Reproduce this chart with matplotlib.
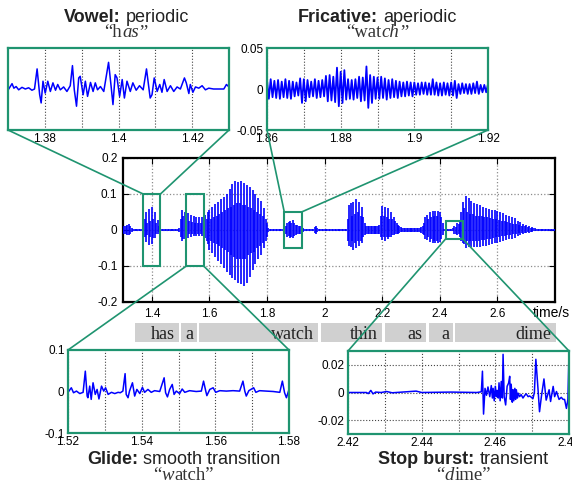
import numpy as np
import matplotlib
matplotlib.use("Agg")
import matplotlib.pyplot as plt
from matplotlib.patches import Rectangle, ConnectionPatch
from matplotlib import transforms

plt.rcParams['font.family'] = ['Liberation Sans', 'DejaVu Sans']

# ---------------- data ----------------
# main waveform envelope (upper / lower) sampled every 5 ms from 1.300 s
wave_t0 = 1.30
wave_dt = 0.005
wave_hi = [
    .008, .012, .010, .014, .018, .012, .006, .003, .003, .003, .003, .003, .003, .003, .008, .030, .050, .020, .057, .025,
    .065, .030, .049, .020, .027, .012, .006, .003, .003, .003, .003, .003, .003, .003, .003, .003, .003, .003, .003, .005,
    .030, .056, .040, .050, .030, .046, .025, .042, .022, .039, .020, .035, .020, .035, .020, .037, .022, .042, .030, .050,
    .055, .030, .065, .035, .072, .040, .078, .045, .085, .050, .092, .055, .100, .060, .115, .065, .128, .070, .137, .075,
    .133, .075, .135, .070, .130, .070, .125, .065, .120, .060, .110, .055, .100, .050, .090, .045, .080, .040, .060, .030,
    .020, .005, .003, .003, .003, .003, .003, .003, .003, .003, .003, .003, .003, .010, .020, .022, .025, .020, .028, .020,
    .015, .013, .012, .010, .008, .006, .004, .003, .003, .003, .003, .003, .003, .008, .012, .005, .003, .003, .003, .003,
    .003, .003, .003, .003, .003, .003, .003, .003, .003, .003, .003, .003, .003, .003, .003, .003, .030, .070, .074, .040,
    .079, .045, .085, .050, .078, .040, .065, .035, .020, .012, .010, .010, .012, .010, .010, .012, .010, .012, .015, .040,
    .067, .040, .065, .035, .060, .030, .050, .030, .035, .025, .020, .015, .010, .008, .006, .006, .005, .006, .005, .006,
    .005, .005, .005, .005, .006, .005, .006, .008, .010, .020, .035, .042, .030, .050, .035, .054, .040, .054, .040, .052,
    .050, .035, .020, .004, .003, .003, .003, .003, .003, .005, .010, .008, .020, .018, .025, .050, .079, .060, .094, .050,
    .088, .045, .080, .045, .075, .040, .072, .040, .070, .038, .065, .035, .060, .035, .058, .032, .056, .030, .055, .030,
    .052, .028, .050, .026, .046, .025, .042, .022, .040, .020, .035, .018, .032, .016, .026, .014, .023, .012, .018, .010,
    .014, .008, .010, .006, .007, .005, .005, .003, .003, .003, .003, .003, .003, .003, .003, .003, .003, .003, .003, .003,
    .003,
]
wave_lo = [
    -.008, -.012, -.010, -.014, -.015, -.010, -.005, -.003, -.003, -.003, -.003, -.003, -.003, -.003, -.008, -.020, -.034, -.015, -.042, -.020,
    -.038, -.022, -.022, -.010, -.011, -.006, -.004, -.003, -.003, -.003, -.003, -.003, -.003, -.003, -.003, -.003, -.003, -.003, -.003, -.005,
    -.020, -.030, -.025, -.025, -.015, -.023, -.012, -.020, -.012, -.018, -.010, -.016, -.010, -.016, -.010, -.018, -.012, -.022, -.030, -.040,
    -.055, -.030, -.065, -.035, -.075, -.040, -.085, -.045, -.095, -.050, -.105, -.055, -.116, -.060, -.125, -.070, -.134, -.075, -.140, -.080,
    -.148, -.080, -.150, -.080, -.155, -.080, -.148, -.070, -.130, -.065, -.110, -.060, -.095, -.050, -.080, -.045, -.070, -.035, -.050, -.030,
    -.020, -.005, -.003, -.003, -.003, -.003, -.003, -.003, -.003, -.003, -.003, -.003, -.003, -.010, -.020, -.018, -.022, -.020, -.022, -.018,
    -.015, -.012, -.012, -.010, -.008, -.006, -.004, -.003, -.003, -.003, -.003, -.003, -.003, -.008, -.010, -.005, -.003, -.003, -.003, -.003,
    -.003, -.003, -.003, -.003, -.003, -.003, -.003, -.003, -.003, -.003, -.003, -.003, -.003, -.003, -.003, -.003, -.030, -.045, -.046, -.030,
    -.056, -.035, -.050, -.030, -.045, -.030, -.035, -.020, -.015, -.010, -.010, -.012, -.010, -.010, -.010, -.010, -.010, -.012, -.012, -.020,
    -.028, -.020, -.030, -.020, -.025, -.020, -.020, -.015, -.015, -.012, -.010, -.010, -.008, -.006, -.006, -.006, -.005, -.006, -.005, -.006,
    -.005, -.005, -.005, -.005, -.006, -.005, -.006, -.008, -.010, -.015, -.025, -.028, -.020, -.032, -.025, -.037, -.030, -.037, -.030, -.035,
    -.033, -.025, -.015, -.004, -.003, -.003, -.003, -.003, -.003, -.004, -.010, -.012, -.015, -.012, -.020, -.030, -.037, -.040, -.049, -.030,
    -.048, -.030, -.046, -.030, -.046, -.030, -.046, -.030, -.046, -.028, -.045, -.028, -.044, -.025, -.042, -.025, -.040, -.022, -.037, -.020,
    -.035, -.020, -.032, -.018, -.030, -.016, -.028, -.015, -.026, -.014, -.024, -.012, -.022, -.010, -.016, -.009, -.014, -.008, -.010, -.007,
    -.009, -.006, -.007, -.005, -.005, -.004, -.004, -.003, -.003, -.003, -.003, -.003, -.003, -.003, -.003, -.003, -.003, -.003, -.003, -.003,
    -.003,
]

main_xticks = [1.4, 1.6, 1.8, 2.0, 2.2, 2.4, 2.6]
main_yticks = [-0.2, -0.1, 0.0, 0.1, 0.2]

# words under the waveform (start / end times, s)
words = ["has", "a", "watch", "thin", "as", "a", "dime"]
word_start = [1.342, 1.501, 1.564, 1.988, 2.210, 2.363, 2.453]
word_end = [1.494, 1.557, 1.977, 2.199, 2.352, 2.446, 2.803]

# zoom regions: (t0, t1, +/- amplitude of the highlight box)
zoom_t0 = [1.37, 1.86, 1.52, 2.42]
zoom_t1 = [1.43, 1.92, 1.58, 2.48]
zoom_amp = [0.10, 0.05, 0.10, 0.025]

# vowel "has" inset samples (t, v)
vowel_pts = [
    (1.3702, 0.000), (1.3711, 0.013), (1.3716, 0.002), (1.3722, 0.006), (1.3729, -0.002), (1.3738, 0.004),
    (1.3747, 0.000), (1.3756, 0.003), (1.3765, -0.003), (1.3772, 0.000), (1.3779, 0.049), (1.3786, -0.014),
    (1.3790, -0.034), (1.3795, 0.019), (1.3801, -0.010), (1.3808, 0.019), (1.3815, -0.006), (1.3822, 0.015),
    (1.3829, -0.003), (1.3835, 0.011), (1.3842, -0.002), (1.3851, 0.005), (1.3860, -0.006), (1.3869, 0.008),
    (1.3875, 0.057), (1.3880, -0.002), (1.3886, -0.042), (1.3892, 0.027), (1.3896, 0.031), (1.3904, -0.014),
    (1.3910, 0.019), (1.3916, -0.018), (1.3924, 0.016), (1.3931, -0.006), (1.3937, 0.015), (1.3943, -0.002),
    (1.3951, 0.006), (1.3960, -0.006), (1.3973, 0.065), (1.3980, 0.006), (1.3985, -0.038), (1.3991, 0.035),
    (1.3996, 0.027), (1.4003, -0.018), (1.4010, 0.023), (1.4016, -0.022), (1.4023, 0.019), (1.4032, -0.006),
    (1.4039, 0.015), (1.4048, -0.003), (1.4057, 0.008), (1.4067, -0.002), (1.4076, 0.049), (1.4082, 0.006),
    (1.4086, -0.022), (1.4091, -0.014), (1.4097, 0.027), (1.4105, -0.006), (1.4112, 0.011), (1.4118, -0.008),
    (1.4124, 0.023), (1.4132, -0.006), (1.4141, 0.008), (1.4150, -0.006), (1.4159, 0.005), (1.4168, 0.000),
    (1.4179, 0.027), (1.4184, 0.015), (1.4191, -0.011), (1.4195, 0.011), (1.4202, -0.008), (1.4209, 0.005),
    (1.4218, 0.002), (1.4227, 0.008), (1.4236, -0.002), (1.4245, 0.002), (1.4258, 0.000), (1.4272, 0.000),
    (1.4286, 0.000), (1.4293, 0.011), (1.4300, 0.005),
]

# fricative "watch" inset: noise envelope every 1 ms from 1.860 s
fric_t0 = 1.860
fric_dt = 0.001
fric_hi = [
    .011, .012, .010, .011, .009, .012, .010, .009, .008, .013,
    .012, .011, .009, .012, .010, .011, .016, .017, .015, .026,
    .021, .023, .012, .011, .012, .015, .014, .0275, .017, .015,
    .014, .015, .013, .011, .012, .010, .009, .008, .009, .008,
    .008, .007, .008, .008, .007, .012, .008, .007, .008, .007,
    .008, .010, .006, .007, .006, .006, .007, .009, .005, .005,
    .006,
]
fric_lo = [
    -.012, -.010, -.011, -.012, -.010, -.011, -.012, -.009, -.008, -.017,
    -.015, -.010, -.009, -.011, -.010, -.009, -.015, -.014, -.016, -.021,
    -.017, -.013, -.012, -.013, -.011, -.015, -.014, -.023, -.017, -.012,
    -.012, -.011, -.013, -.011, -.010, -.011, -.009, -.009, -.008, -.009,
    -.007, -.007, -.006, -.007, -.007, -.007, -.008, -.008, -.007, -.008,
    -.008, -.011, -.006, -.005, -.006, -.006, -.005, -.006, -.004, -.004,
    -.004,
]

# glide "watch" inset samples (t, v)
glide_pts = [
    (1.5200, -0.002), (1.5209, 0.009), (1.5215, -0.003), (1.5223, 0.001), (1.5232, -0.005), (1.5241, -0.002),
    (1.5247, 0.049), (1.5252, -0.011), (1.5254, -0.015), (1.5259, 0.013), (1.5263, -0.019), (1.5268, 0.021),
    (1.5274, -0.007), (1.5279, 0.005), (1.5284, -0.018), (1.5291, 0.013), (1.5297, 0.001), (1.5302, 0.009),
    (1.5309, -0.007), (1.5318, -0.002), (1.5327, -0.005), (1.5336, -0.002), (1.5342, -0.003), (1.5349, 0.001),
    (1.5355, 0.043), (1.5358, -0.007), (1.5363, -0.015), (1.5367, 0.001), (1.5375, 0.021), (1.5381, -0.011),
    (1.5387, 0.005), (1.5395, -0.005), (1.5402, 0.010), (1.5408, -0.002), (1.5417, 0.005), (1.5426, -0.002),
    (1.5435, 0.002), (1.5449, 0.000), (1.5461, 0.033), (1.5465, -0.003), (1.5470, -0.013), (1.5476, 0.005),
    (1.5483, 0.017), (1.5488, -0.007), (1.5494, 0.001), (1.5503, -0.005), (1.5510, 0.006), (1.5517, -0.002),
    (1.5530, 0.002), (1.5548, 0.000), (1.5562, 0.001), (1.5568, 0.025), (1.5574, 0.001), (1.5577, -0.010),
    (1.5585, 0.005), (1.5594, 0.009), (1.5601, -0.002), (1.5612, 0.002), (1.5630, 0.001), (1.5648, 0.002),
    (1.5666, 0.001), (1.5675, 0.025), (1.5680, 0.001), (1.5684, -0.011), (1.5691, 0.002), (1.5704, 0.009),
    (1.5710, -0.002), (1.5720, 0.002), (1.5738, 0.001), (1.5757, 0.000), (1.5775, -0.002), (1.5782, 0.025),
    (1.5788, -0.003), (1.5793, -0.015), (1.5800, 0.005),
]

# stop burst "dime" inset samples (t, v)
stop_pts = [
    (2.4200, 0.0), (2.4250, 0.0), (2.4255, -0.0008), (2.4262, 0.0015), (2.4268, -0.0010), (2.4275, 0.0003),
    (2.4290, 0.0), (2.4305, 0.0007), (2.4320, -0.0002), (2.4385, 0.0010), (2.4400, 0.0), (2.4480, 0.0003),
    (2.4550, 0.0), (2.4562, 0.0005), (2.4565, 0.0154), (2.4568, -0.0156), (2.4572, 0.0030), (2.4576, -0.0020),
    (2.4580, 0.0040), (2.4585, -0.0030), (2.4589, 0.0050), (2.4592, -0.0040), (2.4594, 0.0030), (2.4597, -0.0060),
    (2.4600, 0.0045), (2.4603, -0.0030), (2.4605, 0.0015), (2.4608, -0.0040), (2.4610, 0.0070), (2.4613, -0.0060),
    (2.4616, 0.0080), (2.4619, -0.0040), (2.4621, 0.0276), (2.4624, -0.0030), (2.4628, -0.0090), (2.4632, 0.0045),
    (2.4636, 0.0068), (2.4639, 0.0117), (2.4641, -0.0050), (2.4643, 0.0060), (2.4646, -0.0070), (2.4648, 0.0020),
    (2.4650, -0.0060), (2.4653, 0.0030), (2.4655, -0.0050), (2.4657, 0.0020), (2.4660, -0.0040), (2.4662, -0.0005),
    (2.4666, -0.0030), (2.4670, -0.0015), (2.4675, -0.0040), (2.4680, -0.0020), (2.4684, -0.0010), (2.4689, -0.0030),
    (2.4693, -0.0025), (2.4698, -0.0035), (2.4702, -0.0045), (2.4706, 0.0000), (2.4710, 0.0240), (2.4716, 0.0020),
    (2.4720, -0.0139), (2.4725, -0.0030), (2.4732, 0.0098), (2.4738, -0.0055), (2.4746, 0.0020), (2.4750, -0.0065),
    (2.4757, 0.0044), (2.4761, -0.0030), (2.4766, 0.0007), (2.4773, -0.0050), (2.4779, -0.0035), (2.4784, -0.0050),
    (2.4788, -0.0050), (2.4793, -0.0115), (2.4797, -0.0050), (2.4800, 0.0290),
]

titles_bold = ["Vowel:", "Fricative:", "Glide:", "Stop burst:"]
titles_rest = ["periodic", "aperiodic", "smooth transition", "transient"]
# example words: pieces (text, italic?)
examples = [
    [("\u201ch", False), ("as", True), ("\u201d", False)],
    [("\u201cwat", False), ("ch", True), ("\u201d", False)],
    [("\u201c", False), ("w", True), ("atch\u201d", False)],
    [("\u201c", False), ("d", True), ("ime\u201d", False)],
]

# ---------------- styling / layout ----------------
W, H = 572, 487
BLUE = '#0000ff'
GREEN = '#1f9470'
fig = plt.figure(figsize=(W / 100, H / 100), dpi=100)


def px_axes(x0, y0, x1, y1):
    return fig.add_axes([x0 / W, 1 - y1 / H, (x1 - x0) / W, (y1 - y0) / H])


def fmt(v):
    return f"{v:g}"


# main waveform axes
main = px_axes(123, 158, 555, 302)
tt = wave_t0 + wave_dt * np.arange(len(wave_hi))
main.vlines(tt, wave_lo, wave_hi, color=BLUE, lw=1.2, zorder=3)
main.set_xlim(1.3, 2.8)
main.set_ylim(-0.2, 0.2)
main.set_xticks(main_xticks)
main.set_xticklabels([fmt(v) for v in main_xticks])
main.set_yticks(main_yticks)
main.set_yticklabels([fmt(round(v, 2)) for v in main_yticks])
main.grid(True, ls=':', color='#8c8c8c', lw=0.9)
main.tick_params(direction='in', top=True, right=True, length=4, width=0.8,
                 labelsize=8.5, pad=4)
for s in main.spines.values():
    s.set_linewidth(1.6)
fig.text(533 / W, 1 - 313 / H, "time/s", fontsize=10, ha='left', va='center')

# word bar
wax = px_axes(123, 323, 555, 342)
wax.set_xlim(1.3, 2.8)
wax.set_ylim(0, 1)
wax.axis('off')
wax.barh(0.5, np.array(word_end) - np.array(word_start), left=word_start, height=1.0,
         color='#d0d0d0', clip_on=False)
off = transforms.offset_copy(wax.transData, fig=fig, x=-4, y=0, units='dots')
for w, e in zip(words, word_end):
    wax.text(e, 0.42, w, ha='right', va='center', transform=off,
             family='Liberation Serif', fontsize=13, color='#222222', clip_on=False)

# inset axes
inset_boxes = [(8, 48, 229, 130), (267, 48, 488, 130), (68, 350, 289, 433), (348, 351, 569, 434)]
inset_ylim = [0.1, 0.05, 0.1, 0.03]
inset_yticks = [[], [-0.05, 0, 0.05], [-0.1, 0, 0.1], [-0.02, 0, 0.02]]
insets = []
for k in range(4):
    ax = px_axes(*inset_boxes[k])
    t0, t1 = zoom_t0[k], zoom_t1[k]
    if k == 0:
        ax.plot([p[0] for p in vowel_pts], [p[1] for p in vowel_pts], color=BLUE, lw=1.1)
    elif k == 1:
        th = fric_t0 + fric_dt * np.arange(len(fric_hi))
        zt = np.empty(2 * len(th))
        zv = np.empty(2 * len(th))
        zt[0::2] = th
        zt[1::2] = th + fric_dt / 2
        zv[0::2] = fric_hi
        zv[1::2] = fric_lo
        ax.plot(zt, zv, color=BLUE, lw=1.3)
    elif k == 2:
        ax.plot([p[0] for p in glide_pts], [p[1] for p in glide_pts], color=BLUE, lw=1.1)
    else:
        ax.plot([p[0] for p in stop_pts], [p[1] for p in stop_pts], color=BLUE, lw=1.1)
    ax.set_xlim(t0, t1)
    ax.set_ylim(-inset_ylim[k], inset_ylim[k])
    maj = [round(t0 + 0.01 + 0.02 * i, 2) for i in range(3)] if k == 0 else [round(t0 + 0.02 * i, 2) for i in range(4)]
    mnr = [round(t0 + 0.01 * i, 2) for i in range(1, 6)]
    ax.set_xticks(maj)
    ax.set_xticklabels([fmt(v) for v in maj])
    ax.set_xticks(mnr, minor=True)
    ax.set_yticks(inset_yticks[k])
    ax.set_yticklabels([fmt(v) for v in inset_yticks[k]])
    ax.grid(True, which='both', axis='x', ls=':', color='#444444', lw=0.8)
    if k == 3:
        ax.grid(True, which='major', axis='y', ls=':', color='#444444', lw=0.8)
    ax.tick_params(which='both', direction='in', length=0, labelsize=8.5, pad=2.5)
    for s in ax.spines.values():
        s.set_color(GREEN)
        s.set_linewidth(1.6)
    insets.append(ax)

# highlight boxes and connectors
for k in range(4):
    t0, t1, a = zoom_t0[k], zoom_t1[k], zoom_amp[k]
    main.add_patch(Rectangle((t0, -a), t1 - t0, 2 * a, fill=False, ec=GREEN, lw=1.5, zorder=5))
    if k < 2:
        pairs = [((t0, a), (0, 0)), ((t1, a), (1, 0))]
    else:
        pairs = [((t0, -a), (0, 1)), ((t1, -a), (1, 1))]
    for pa, pb in pairs:
        cp = ConnectionPatch(xyA=pa, coordsA=main.transData, xyB=pb, coordsB=insets[k].transAxes,
                             color=GREEN, lw=1.2, zorder=10)
        fig.add_artist(cp)

# titles
renderer = fig.canvas.get_renderer()
ident = transforms.IdentityTransform()


def rich(xc, ybase, pieces, size):
    arts = []
    total = 0.0
    for s, kw, gap in pieces:
        txt = fig.text(0, 0, s, fontsize=size, ha='left', va='baseline', transform=ident, **kw)
        w = txt.get_window_extent(renderer).width
        arts.append((txt, w, gap))
        total += w + gap
    x = xc - total / 2
    for txt, w, gap in arts:
        txt.set_position((x, H - ybase))
        x += w + gap


title_xc = [126.5, 377.5, 183.5, 463.5]
title_base = [21.5, 464.0]
ex_base = [37.0, 480.0]
for k in range(4):
    row = 0 if k < 2 else 1
    sz = 13
    gap = 0.28 * sz * 100 / 72
    rich(title_xc[k], title_base[row],
         [(titles_bold[k], dict(fontweight='bold', color='#222222'), gap),
          (titles_rest[k], dict(color='#222222'), 0)], sz)
    pcs = []
    for s, it in examples[k]:
        kw = dict(family='Liberation Serif', color='#333333')
        if it:
            kw['style'] = 'italic'
        pcs.append((s, kw, 0.5))
    rich(title_xc[k], ex_base[row], pcs, 13.5)

fig.savefig("out.png", dpi=100)
